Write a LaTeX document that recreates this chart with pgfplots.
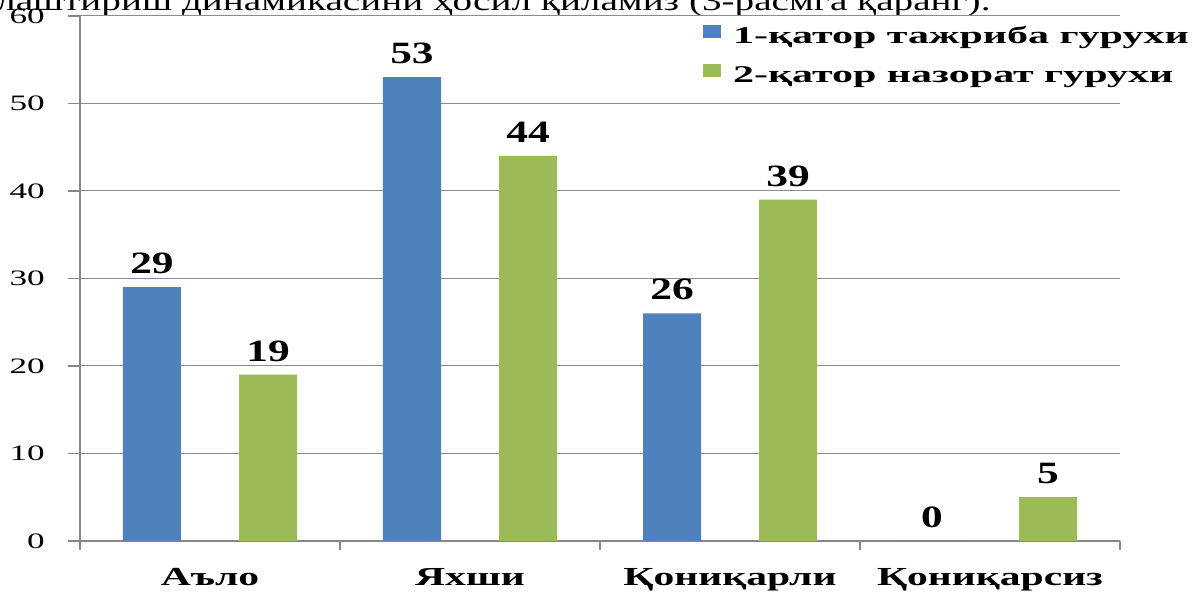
\documentclass[border=0pt]{standalone}
\usepackage{fontspec}
\setmainfont{Liberation Serif}[FakeStretch=1.4]
\newfontfamily\widefont{Liberation Serif}[FakeStretch=1.6]
\newfontfamily\legfont{Liberation Serif}[FakeStretch=1.75]
\usepackage{pgfplots}
\pgfplotsset{compat=1.18}
\definecolor{cblue}{HTML}{4F81BD}
\definecolor{cgreen}{HTML}{9BBB59}
\definecolor{axgray}{HTML}{878787}
\definecolor{gridgray}{HTML}{8C8C8C}
\begin{document}
\begin{tikzpicture}[x=1bp,y=1bp]
\useasboundingbox (-80,-51) rectangle (1113,541);
\begin{scope}
\clip (-80,-51) rectangle (1113,541);
\node[anchor=base west, inner sep=0, font=\fontsize{28bp}{32bp}\selectfont] at (-84,530) {лаштириш динамикасини ҳосил қиламиз (3-расмга қаранг).};
\end{scope}
\begin{axis}[anchor=south west, scale only axis,
  width=1040bp, height=525bp,
  ymin=0, ymax=60, xmin=-0.5, xmax=3.5,
  ytick={0,10,...,60},
  xtick={-0.5,0.5,1.5,2.5,3.5},
  xticklabels={Аъло,Яхши,Қониқарли,Қониқарсиз},
  x tick label as interval,
  axis lines*=left,
  axis line style={draw=axgray, line width=1.2bp},
  ymajorgrids, grid style={draw=gridgray, line width=1bp},
  tick align=outside, major tick length=12bp,
  tick style={draw=axgray, line width=1.2bp},
  xtick style={/pgfplots/major tick length=9bp},
  /pgf/number format/assume math mode=true,
  yticklabel style={font=\widefont\fontsize{22bp}{26bp}\selectfont, anchor=east, inner sep=0pt, xshift=-23bp},
  xticklabel style={font=\widefont\bfseries\fontsize{26bp}{30bp}\selectfont, anchor=base, inner sep=0pt, yshift=-33bp},
  ybar=58bp, bar width=58bp,
  nodes near coords,
  every node near coord/.append style={font=\bfseries\fontsize{31bp}{36bp}\selectfont, inner sep=0pt, yshift=13bp},
  legend style={at={(0.596,0.99)}, anchor=north west, draw=none, fill=none,
    font=\legfont\bfseries\fontsize{24bp}{28bp}\selectfont,
    nodes={inner sep=0pt, text height=20bp, text depth=6bp},
    row sep=13bp,
    /tikz/every odd column/.append style={column sep=12bp}},
  legend cell align=left,
]
\addplot[fill=cblue, draw=none, legend image code/.code={\fill[cblue] (0bp,-2bp) rectangle (18bp,11bp);}] coordinates {(0,29) (1,53) (2,26) (3,0)};
\addplot[fill=cgreen, draw=none, legend image code/.code={\fill[cgreen] (0bp,-2bp) rectangle (18bp,11bp);}] coordinates {(0,19) (1,44) (2,39) (3,5)};
\legend{1-қатор тажриба гурухи, 2-қатор назорат гурухи}
\end{axis}
\end{tikzpicture}
\end{document}
